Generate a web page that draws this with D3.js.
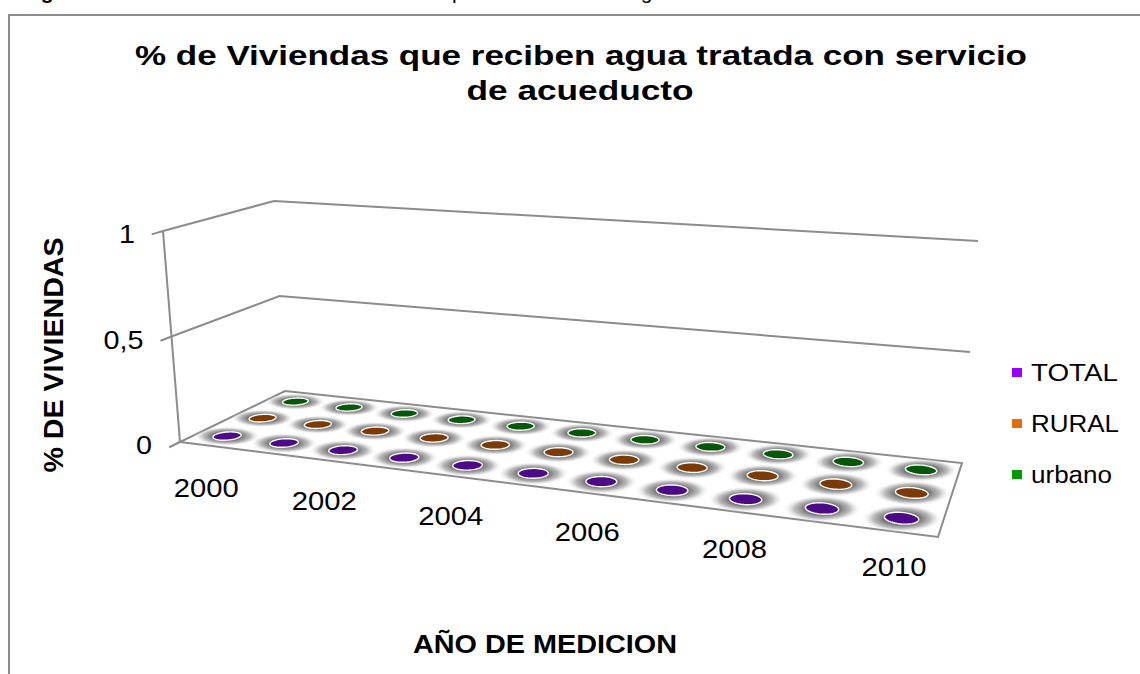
<!DOCTYPE html>
<html>
<head>
<meta charset="utf-8">
<script src="https://cdn.jsdelivr.net/npm/d3@7"></script>
<style>
  body { margin: 0; background: #fff; }
  svg { display: block; font-family: Arial, "Liberation Sans", sans-serif; }
</style>
</head>
<body>
<div id="chart"></div>
<script>
// Data: every column is flat (value 0)
const years = ['2000', '2001', '2002', '2003', '2004', '2005', '2006', '2007', '2008', '2009', '2010'];
const seriesNames = ['TOTAL', 'RURAL', 'urbano'];
const totalValues = [0, 0, 0, 0, 0, 0, 0, 0, 0, 0, 0];
const ruralValues = [0, 0, 0, 0, 0, 0, 0, 0, 0, 0, 0];
const urbanoValues = [0, 0, 0, 0, 0, 0, 0, 0, 0, 0, 0];
const yTicks = [0, 0.5, 1];
const yearLabels = ['2000', '2002', '2004', '2006', '2008', '2010'];

const legendColors = { TOTAL: '#9a00ff', RURAL: '#e46c0a', urbano: '#009a00' };
const diskColors = { TOTAL: '#4d0a87', RURAL: '#7b3b06', urbano: '#06570a' };

const width = 1140, height = 674;
const seriesValues = { TOTAL: totalValues, RURAL: ruralValues, urbano: urbanoValues };

const svg = d3.select('#chart').append('svg')
  .attr('width', width).attr('height', height)
  .attr('viewBox', `0 0 ${width} ${height}`);

// frame of the embedded chart (runs off the page at right/bottom)
svg.append('rect')
  .attr('x', 9).attr('y', 15).attr('width', 1200).attr('height', 700)
  .attr('fill', 'none').attr('stroke', '#8c8c8c').attr('stroke-width', 2);

// caption of the document, cut off above the page like in the source
const cap = svg.append('text').attr('y', -1.5).attr('font-size', 21).attr('fill', '#000');
cap.append('tspan').attr('x', 22).attr('font-weight', 'bold').text('Figura 6.');
cap.append('tspan').attr('x', 120).text('Cobertura del servicio de acueducto');
cap.append('tspan').attr('x', 452).text('por zona de');
cap.append('tspan').attr('x', 629).text('agua tratada');

// --- perspective set-up: floor plane as a homography, height as an up-vector
const floorQuad = [[180, 442], [938, 537], [962, 463], [285, 391]]; // FL, FR, BR, BL
const upVec = [[-17, -211], [10, -243], [16, -222], [-11, -190]];

function squareToQuad(q) {
  const [[x0, y0], [x1, y1], [x2, y2], [x3, y3]] = q;
  const dx1 = x1 - x2, dx2 = x3 - x2, dx3 = x0 - x1 + x2 - x3;
  const dy1 = y1 - y2, dy2 = y3 - y2, dy3 = y0 - y1 + y2 - y3;
  const den = dx1 * dy2 - dx2 * dy1;
  const g = (dx3 * dy2 - dx2 * dy3) / den;
  const h = (dx1 * dy3 - dx3 * dy1) / den;
  const a = x1 - x0 + g * x1, b = x3 - x0 + h * x3, c = x0;
  const d = y1 - y0 + g * y1, e = y3 - y0 + h * y3, f = y0;
  return (u, v) => {
    const w = g * u + h * v + 1;
    return [(a * u + b * v + c) / w, (d * u + e * v + f) / w];
  };
}
const floorMap = squareToQuad(floorQuad);

function proj(u, v, hgt) {
  const p = floorMap(u, v);
  const k = [(1 - u) * (1 - v), u * (1 - v), u * v, (1 - u) * v];
  const ux = d3.sum(upVec, (q, i) => q[0] * k[i]);
  const uy = d3.sum(upVec, (q, i) => q[1] * k[i]);
  return [p[0] + hgt * ux, p[1] + hgt * uy];
}

// scales: category band along the floor, series band in depth, value up the wall
const x = d3.scaleBand().domain(years).range([0, years.length]);
const z = d3.scaleBand().domain(seriesNames).range([0, seriesNames.length]);
const y = d3.scaleLinear().domain([0, 1]).range([0, 1]);
const nu = (p) => p / years.length;
const nv = (p) => p / seriesNames.length;

const grey = '#8c8c8c';
const line = d3.line();

// side wall + back wall gridlines
const gWalls = svg.append('g').attr('fill', 'none').attr('stroke', grey).attr('stroke-width', 2);
yTicks.filter((t) => t > 0).forEach((t) => {
  const h = y(t);
  gWalls.append('path').attr('d', line([proj(0, 0, h), proj(0, 1, h), proj(1, 1, h)]));
});
// vertical axis and tick marks
gWalls.append('path').attr('d', line([proj(0, 0, y(0)), proj(0, 0, y(1))]));
yTicks.forEach((t) => {
  gWalls.append('path').attr('d', line([proj(0, -0.09, y(t)), proj(0, 0, y(t))]));
});

// y tick labels
svg.append('g').selectAll('text').data(yTicks).join('text')
  .attr('x', (t) => proj(0, 0, y(t))[0] - 28)
  .attr('y', (t) => proj(0, 0, y(t))[1] + 12)
  .attr('text-anchor', 'end')
  .attr('font-size', 25)
  .attr('fill', '#000')
  .text((t) => d3.format('~g')(t).replace('.', ','))
  .each(function () {
    const l = this.getComputedTextLength();
    d3.select(this).attr('textLength', l * 1.15).attr('lengthAdjust', 'spacingAndGlyphs');
  });

// floor
svg.append('path')
  .attr('d', d3.line().curve(d3.curveLinearClosed)(floorQuad))
  .attr('fill', '#fff').attr('stroke', grey).attr('stroke-width', 2);

const defs = svg.append('defs');
const halo = defs.append('radialGradient').attr('id', 'halo');
halo.append('stop').attr('offset', '0%').attr('stop-color', '#5e5e5e');
halo.append('stop').attr('offset', '42%').attr('stop-color', '#707070');
halo.append('stop').attr('offset', '70%').attr('stop-color', '#b0b0b0').attr('stop-opacity', 0.85);
halo.append('stop').attr('offset', '100%').attr('stop-color', '#ffffff').attr('stop-opacity', 0);

// column records, back row first so the front row is drawn on top
const cols = [];
seriesNames.slice().reverse().forEach((s) => {
  years.forEach((yr, i) => {
    cols.push({ series: s, year: yr, value: seriesValues[s][i] });
  });
});

function ringPath(d, r, hgt) {
  const cu = x(d.year) + x.bandwidth() / 2;
  const cv = z(d.series) + z.bandwidth() / 2;
  const pts = d3.range(48).map((k) => {
    const t = (k / 48) * 2 * Math.PI;
    return proj(nu(cu + r * Math.cos(t)), nv(cv + r * Math.sin(t)), hgt);
  });
  return d3.line().curve(d3.curveLinearClosed)(pts);
}

svg.append('g').selectAll('path').data(cols).join('path')
  .attr('d', (d) => ringPath(d, 0.5, 0))
  .attr('fill', 'url(#halo)');

svg.append('g').selectAll('path').data(cols).join('path')
  .attr('d', (d) => ringPath(d, 0.21, y(d.value)))
  .attr('fill', (d) => diskColors[d.series])
  .attr('stroke', '#fff').attr('stroke-width', 1.4);

// category labels (every other year), under the front edge
const dyScale = d3.scaleLinear().domain([0, 1]).range([52, 44]);
svg.append('g').selectAll('text').data(yearLabels).join('text')
  .attr('x', (yr) => proj(nu(x(yr) + x.bandwidth() / 2), 0, 0)[0] - 2)
  .attr('y', (yr) => {
    const u = nu(x(yr) + x.bandwidth() / 2);
    return proj(u, 0, 0)[1] + dyScale(u);
  })
  .attr('text-anchor', 'middle')
  .attr('font-size', 26)
  .attr('textLength', 65).attr('lengthAdjust', 'spacingAndGlyphs')
  .text((yr) => yr);

// titles
svg.append('text').attr('x', 581).attr('y', 65).attr('text-anchor', 'middle')
  .attr('font-size', 28).attr('font-weight', 'bold')
  .attr('textLength', 892).attr('lengthAdjust', 'spacingAndGlyphs')
  .text('% de Viviendas que reciben agua tratada con servicio');
svg.append('text').attr('x', 580).attr('y', 100).attr('text-anchor', 'middle')
  .attr('font-size', 28).attr('font-weight', 'bold')
  .attr('textLength', 227).attr('lengthAdjust', 'spacingAndGlyphs')
  .text('de acueducto');

svg.append('text').attr('transform', 'translate(63,355) rotate(-90)')
  .attr('text-anchor', 'middle')
  .attr('font-size', 27).attr('font-weight', 'bold')
  .attr('textLength', 235).attr('lengthAdjust', 'spacingAndGlyphs')
  .text('% DE VIVIENDAS');

svg.append('text').attr('x', 545).attr('y', 653).attr('text-anchor', 'middle')
  .attr('font-size', 26).attr('font-weight', 'bold')
  .attr('textLength', 264).attr('lengthAdjust', 'spacingAndGlyphs')
  .text('AÑO DE MEDICION');

// legend
const legendLen = { TOTAL: 87, RURAL: 88, urbano: 81 };
const leg = svg.append('g').selectAll('g').data(seriesNames).join('g')
  .attr('transform', (d, i) => `translate(1012,${368 + i * 51})`);
leg.append('rect').attr('width', 10).attr('height', 9).attr('fill', (d) => legendColors[d]);
leg.append('text').attr('x', 19).attr('y', 13)
  .attr('font-size', 23)
  .attr('textLength', (d) => legendLen[d]).attr('lengthAdjust', 'spacingAndGlyphs')
  .text((d) => d);
</script>
</body>
</html>
